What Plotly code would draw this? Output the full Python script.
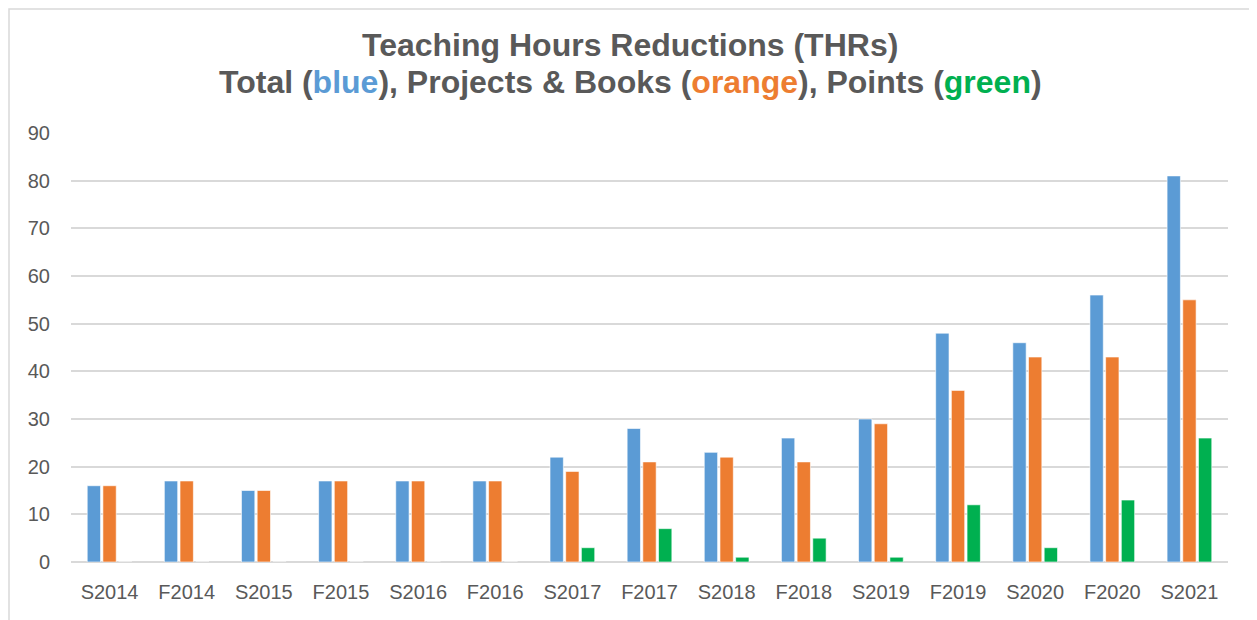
import plotly.graph_objects as go

categories = ["S2014", "F2014", "S2015", "F2015", "S2016", "F2016", "S2017", "F2017",
              "S2018", "F2018", "S2019", "F2019", "S2020", "F2020", "S2021"]
total = [16, 17, 15, 17, 17, 17, 22, 28, 23, 26, 30, 48, 46, 56, 81]
projects_books = [16, 17, 15, 17, 17, 17, 19, 21, 22, 21, 29, 36, 43, 43, 55]
points = [0, 0, 0, 0, 0, 0, 3, 7, 1, 5, 1, 12, 3, 13, 26]
y_ticks = [0, 10, 20, 30, 40, 50, 60, 70, 80, 90]

BLUE = "#5B9BD5"
ORANGE = "#ED7D31"
GREEN = "#00B050"
GRAY = "#595959"

fig = go.Figure()
for name, vals, col in [("Total", total, BLUE), ("Projects & Books", projects_books, ORANGE),
                        ("Points", points, GREEN)]:
    fig.add_trace(go.Bar(x=categories, y=vals, name=name, marker_color=col,
                         marker_line=dict(color="rgba(255,255,255,0.6)", width=1)))

line1 = "<b>Teaching Hours Reductions (THRs)</b>"
line2 = ("<b>Total (<span style='color:%s'>blue</span>), "
         "Projects &amp; Books (<span style='color:%s'>orange</span>), "
         "Points (<span style='color:%s'>green</span>)</b>") % (BLUE, ORANGE, GREEN)

# page offset of 8px (body margin); plot area in page px: x 71..1228, y 133..562
PX0, PX1, PY0, PY1 = 71, 1228, 133, 562
W, H = PX1 - PX0, PY1 - PY0

def px(x):
    return (x - PX0) / W

def py(y):
    return (PY1 - y) / H

fig.update_layout(
    width=1249, height=612,
    margin=dict(l=PX0 - 8, r=1257 - PX1, t=PY0 - 8, b=620 - PY1, autoexpand=False),
    paper_bgcolor="white", plot_bgcolor="white",
    barmode="group", bargap=0.39, bargroupgap=0.15,
    showlegend=False,
    font=dict(family="Liberation Sans, Arial", size=20, color=GRAY),
)
for txt, yy in [(line1, 45), (line2, 82)]:
    fig.add_annotation(text=txt, xref="paper", yref="paper", x=px(630), y=py(yy),
                       xanchor="center", yanchor="middle", showarrow=False,
                       font=dict(family="Liberation Sans, Arial", size=32, color=GRAY))

fig.update_xaxes(showgrid=False, showline=False, ticks="", ticklabelstandoff=16,
                 automargin=False, tickfont=dict(size=20, color=GRAY))
fig.update_yaxes(range=[0, 90], tickvals=y_ticks, showgrid=True, gridcolor="#D9D9D9",
                 gridwidth=1.5, zeroline=True, zerolinecolor="#D9D9D9", zerolinewidth=1.5,
                 showline=False, ticks="", ticklabelstandoff=20, automargin=False,
                 tickfont=dict(size=20, color=GRAY))
fig.add_shape(type="rect", xref="paper", yref="paper",
              x0=px(9), x1=px(1253), y0=py(640), y1=py(9),
              line=dict(color="#D9D9D9", width=1.5), fillcolor="rgba(0,0,0,0)", layer="below")

fig.write_html("out.html")
